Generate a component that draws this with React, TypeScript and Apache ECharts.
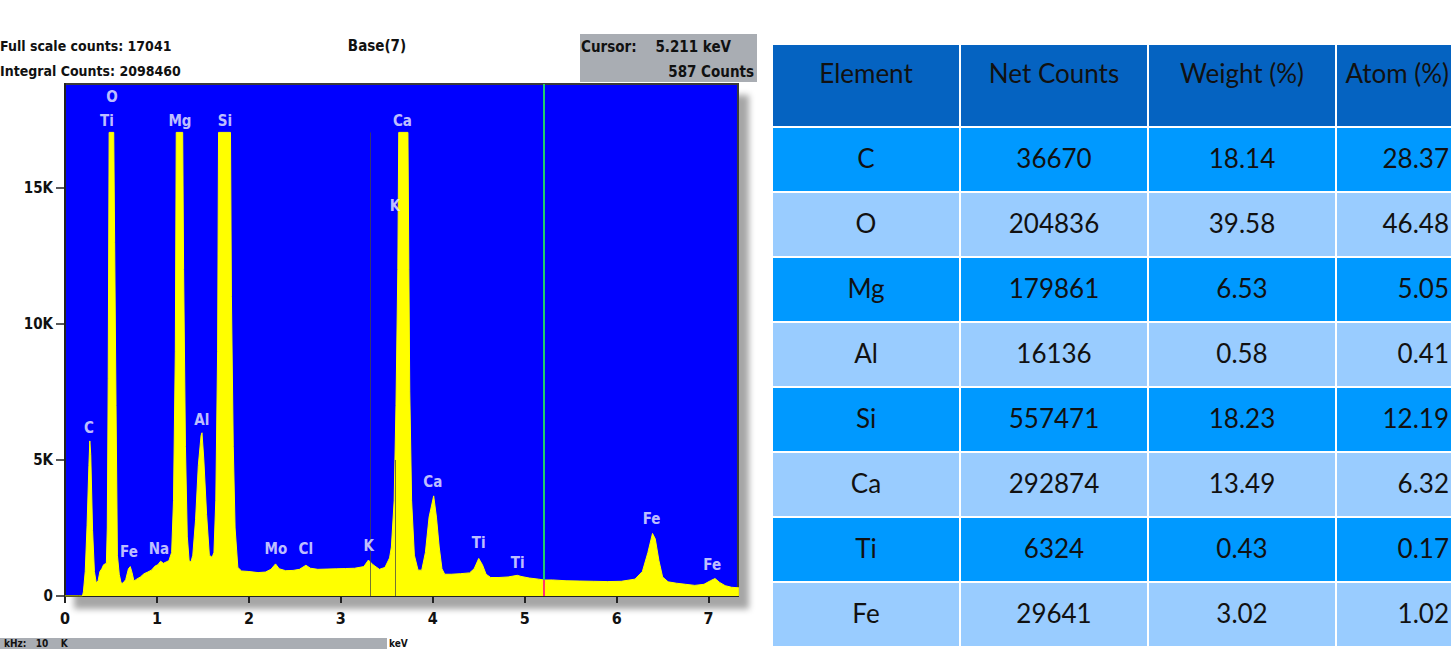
import React, { useEffect, useRef } from "react";
import * as echarts from "echarts";

// ---------- spectrum (keV, counts) ----------
const energyKeV = [
  0.0, 0.15, 0.19, 0.2, 0.22, 0.24, 0.26, 0.27, 0.28, 0.3, 0.32, 0.34, 0.36, 0.38, 0.4, 0.42, 0.45, 0.46, 0.47,
  0.48, 0.53, 0.54, 0.555, 0.57, 0.59, 0.61, 0.63, 0.66, 0.69, 0.71, 0.73, 0.75, 0.78, 0.82, 0.86, 0.9, 0.94,
  0.98, 1.01, 1.04, 1.07, 1.1, 1.13, 1.16, 1.18, 1.2, 1.21, 1.28, 1.29, 1.31, 1.33, 1.35, 1.37, 1.39, 1.42, 1.45,
  1.48, 1.49, 1.51, 1.54, 1.57, 1.6, 1.62, 1.64, 1.66, 1.67, 1.8, 1.81, 1.83, 1.85, 1.88, 1.92, 2.0, 2.1, 2.18,
  2.24, 2.29, 2.33, 2.4, 2.48, 2.55, 2.62, 2.67, 2.75, 2.85, 2.95, 3.05, 3.15, 3.25, 3.3, 3.35, 3.42, 3.48, 3.53,
  3.55, 3.58, 3.6, 3.62, 3.63, 3.73, 3.74, 3.75, 3.77, 3.8, 3.84, 3.88, 3.92, 3.96, 4.01, 4.04, 4.07, 4.1, 4.13,
  4.2, 4.3, 4.4, 4.45, 4.5, 4.54, 4.58, 4.63, 4.72, 4.82, 4.92, 4.96, 5.05, 5.15, 5.21, 5.3, 5.45, 5.6, 5.75,
  5.9, 6.05, 6.2, 6.28, 6.34, 6.39, 6.42, 6.46, 6.5, 6.56, 6.65, 6.75, 6.85, 6.95, 7.02, 7.07, 7.12, 7.18, 7.25,
  7.33,
];
const spectrumCounts = [
  0, 0, 0, 150, 900, 2600, 4800, 5700, 5200, 2400, 900, 480, 560, 900, 1000, 1150, 1200, 2500, 8000,
  17041, 17041, 13000, 7000, 1500, 800, 480, 470, 600, 1000, 1080, 850, 550, 620, 700, 820, 880, 950,
  1100, 1150, 1280, 1200, 1250, 1300, 1600, 3500, 9000, 17041, 17041, 12000, 5500, 2200, 1300, 1250, 1500, 2800, 4800,
  5900, 6000, 5000, 3000, 1500, 1420, 1600, 3500, 9000, 17041, 17041, 11000, 5500, 2500, 1050, 920, 900, 860, 880,
  980, 1180, 1000, 930, 940, 980, 1130, 1020, 980, 990, 1000, 1010, 1020, 1080, 1320, 1150, 980, 1050, 1400,
  1800, 3500, 7000, 12000, 17041, 17041, 12000, 7500, 3500, 1500, 950, 950, 1600, 2900, 3680, 2900, 1800, 1000, 800,
  800, 820, 850, 1000, 1380, 1150, 800, 680, 680, 700, 760, 720, 660, 620, 587, 590, 560, 550, 540,
  530, 540, 620, 900, 1600, 2300, 2100, 1300, 700, 520, 470, 430, 390, 430, 560, 640, 500, 380, 320,
  300,
];

// peak labels
const peakNames = ["O", "Ti", "Mg", "Si", "Ca", "K", "C", "Al", "Fe", "Na", "Mo", "Cl", "K", "Ca", "Ti", "Ti", "Fe", "Fe"];
const peakLabelKeV = [0.51, 0.457, 1.25, 1.74, 3.67, 3.59, 0.261, 1.489, 0.696, 1.022, 2.293, 2.62, 3.304, 4.0, 4.5, 4.924, 6.38, 7.04];
const peakLabelCounts = [18350, 17460, 17460, 17460, 17460, 14340, 6180, 6470, 1620, 1730, 1730, 1730, 1840, 4190, 1950, 1210, 2830, 1140];

const xTicks = [0, 1, 2, 3, 4, 5, 6, 7];
const yTickLabels: Record<number, string> = { 0: "0", 5000: "5K", 10000: "10K", 15000: "15K" };

const fullScaleCounts = 17041;
const integralCounts = 2098460;
const cursorKeV = 5.211;
const cursorCounts = 587;
const kLineKeV = 3.32;
const kbLineKeV = 3.59;

// ---------- table ----------
const tableHeaders = ["Element", "Net Counts", "Weight (%)", "Atom (%)"];
const elements = ["C", "O", "Mg", "Al", "Si", "Ca", "Ti", "Fe"];
const netCounts = ["36670", "204836", "179861", "16136", "557471", "292874", "6324", "29641"];
const weightPct = ["18.14", "39.58", "6.53", "0.58", "18.23", "13.49", "0.43", "3.02"];
const atomPct = ["28.37", "46.48", "5.05", "0.41", "12.19", "6.32", "0.17", "1.02"];

const NARROW = "'Liberation Sans Narrow', 'DejaVu Sans Condensed', sans-serif";
const TABLE_FONT = "Lato, 'Noto Sans', sans-serif";

function buildTable(): any[] {
  const els: any[] = [];
  const x0 = 772;
  const y0 = 44;
  const colW = 188;
  const headH = 83;
  const rowH = 65;
  const cols = [elements, netCounts, weightPct, atomPct];
  for (let c = 0; c < 4; c++) {
    const x = x0 + c * colW;
    const last = c === 3;
    const tx = last ? 1449 : x + colW / 2;
    const talign = last ? "right" : "center";
    els.push({
      type: "rect",
      shape: { x, y: y0, width: colW, height: headH },
      style: { fill: "#0563C1", stroke: "#ffffff", lineWidth: 2 },
    });
    els.push({
      type: "text",
      x: tx,
      y: y0 + 29,
      style: {
        text: tableHeaders[c],
        fill: "#111111",
        font: `400 26px ${TABLE_FONT}`,
        align: talign,
        verticalAlign: "middle",
      },
    });
    for (let r = 0; r < elements.length; r++) {
      const y = y0 + headH + r * rowH;
      els.push({
        type: "rect",
        shape: { x, y, width: colW, height: rowH },
        style: { fill: r % 2 === 0 ? "#0099FF" : "#99CCFF", stroke: "#ffffff", lineWidth: 2 },
      });
      els.push({
        type: "text",
        x: tx,
        y: y + rowH / 2 - 2,
        style: {
          text: cols[c][r],
          fill: "#111111",
          font: `400 26px ${TABLE_FONT}`,
          align: talign,
          verticalAlign: "middle",
        },
      });
    }
  }
  return els;
}

export default function App() {
  const ref = useRef<HTMLDivElement>(null);
  useEffect(() => {
    if (!ref.current) return;
    const chart = echarts.init(ref.current, undefined, { renderer: "svg" });
    const spectrum = energyKeV.map((e, i) => [e, spectrumCounts[i]]);
    const labels = peakNames.map((n, i) => ({ name: n, value: [peakLabelKeV[i], peakLabelCounts[i]] }));
    const textStyleBase = { fontFamily: NARROW, fontWeight: "bold" as const };

    chart.setOption({
      animation: false,
      backgroundColor: "#ffffff",
      grid: {
        left: 65,
        top: 84,
        right: 1451 - 738,
        bottom: 649 - 596,
        show: true,
        backgroundColor: "#0000FF",
        borderColor: "#3a3a3a",
        borderWidth: 2,
        shadowColor: "rgba(0,0,0,0.35)",
        shadowBlur: 6,
        shadowOffsetX: 10,
        shadowOffsetY: 12,
      },
      xAxis: {
        type: "value",
        min: 0,
        max: 7.32,
        interval: 1,
        axisLine: { show: true, lineStyle: { color: "#222", width: 2 } },
        axisTick: { show: true, length: 7, lineStyle: { color: "#222", width: 2 } },
        axisLabel: {
          ...textStyleBase,
          fontSize: 16,
          color: "#111",
          margin: 14,
          showMaxLabel: false,
          formatter: (v: number) => (xTicks.includes(v) ? String(v) : ""),
        },
        splitLine: { show: false },
      },
      yAxis: {
        type: "value",
        min: 0,
        max: 18820,
        interval: 5000,
        axisLine: { show: true, lineStyle: { color: "#222", width: 2 } },
        axisTick: { show: true, length: 9, lineStyle: { color: "#222", width: 1.5 } },
        axisLabel: {
          ...textStyleBase,
          fontSize: 15,
          color: "#111",
          margin: 12,
          showMaxLabel: false,
          formatter: (v: number) => yTickLabels[v] ?? "",
        },
        splitLine: { show: false },
      },
      series: [
        {
          type: "line",
          data: spectrum,
          showSymbol: false,
          symbol: "none",
          lineStyle: { color: "#FFFF00", width: 1 },
          areaStyle: { color: "#FFFF00", opacity: 1 },
          z: 2,
          markLine: {
            silent: true,
            symbol: "none",
            label: { show: false },
            data: [
              [
                { coord: [kLineKeV, 0], lineStyle: { color: "rgba(70,70,70,0.75)", width: 1, type: "solid" } },
                { coord: [kLineKeV, fullScaleCounts] },
              ],
              [
                { coord: [kbLineKeV, 0], lineStyle: { color: "rgba(70,70,70,0.75)", width: 1, type: "solid" } },
                { coord: [kbLineKeV, 5000] },
              ],
              [
                { coord: [cursorKeV, cursorCounts], lineStyle: { color: "#1FD06A", width: 2, type: "solid" } },
                { coord: [cursorKeV, 18820] },
              ],
              [
                { coord: [cursorKeV, 0], lineStyle: { color: "#FF3377", width: 2, type: "solid" } },
                { coord: [cursorKeV, cursorCounts] },
              ],
            ],
          },
        },
        {
          type: "scatter",
          data: labels,
          symbolSize: 0,
          z: 5,
          silent: true,
          label: {
            show: true,
            position: "inside",
            formatter: (p: any) => p.name,
            color: "#F2F2FF",
            fontFamily: NARROW,
            fontWeight: "bold",
            fontSize: 15,
          },
        },
      ],
      graphic: [
        {
          type: "text",
          x: 0,
          y: 46,
          style: { text: `Full scale counts: ${fullScaleCounts}`, fill: "#111", font: `bold 14px ${NARROW}`, verticalAlign: "middle" },
        },
        {
          type: "text",
          x: 0,
          y: 71,
          style: { text: `Integral Counts: ${integralCounts}`, fill: "#111", font: `bold 14px ${NARROW}`, verticalAlign: "middle" },
        },
        {
          type: "text",
          x: 377,
          y: 46,
          style: { text: "Base(7)", fill: "#111", font: `bold 15px ${NARROW}`, align: "center", verticalAlign: "middle" },
        },
        {
          type: "rect",
          shape: { x: 580, y: 34, width: 177, height: 48 },
          style: { fill: "#A9ADB3" },
        },
        {
          type: "text",
          x: 581,
          y: 47,
          style: { text: "Cursor:", fill: "#111", font: `bold 15px ${NARROW}`, verticalAlign: "middle" },
        },
        {
          type: "text",
          x: 731,
          y: 47,
          style: { text: `${cursorKeV} keV`, fill: "#111", font: `bold 15px ${NARROW}`, align: "right", verticalAlign: "middle" },
        },
        {
          type: "text",
          x: 754,
          y: 72,
          style: { text: `${cursorCounts} Counts`, fill: "#111", font: `bold 15px ${NARROW}`, align: "right", verticalAlign: "middle" },
        },
        {
          type: "rect",
          shape: { x: 0, y: 638, width: 387, height: 12 },
          style: { fill: "#A9ADB3" },
        },
        {
          type: "text",
          x: 4,
          y: 638,
          style: { text: "kHz:   10    K", fill: "#111", font: `bold 10px ${NARROW}`, verticalAlign: "top" },
        },
        {
          type: "text",
          x: 389,
          y: 638,
          style: { text: "keV", fill: "#111", font: `bold 10px ${NARROW}`, verticalAlign: "top" },
        },
        ...buildTable(),
      ],
    });
    return () => chart.dispose();
  }, []);
  return (
    <div
      ref={ref}
      style={{ position: "absolute", left: 0, top: 0, width: 1451, height: 649, overflow: "hidden" }}
    />
  );
}
